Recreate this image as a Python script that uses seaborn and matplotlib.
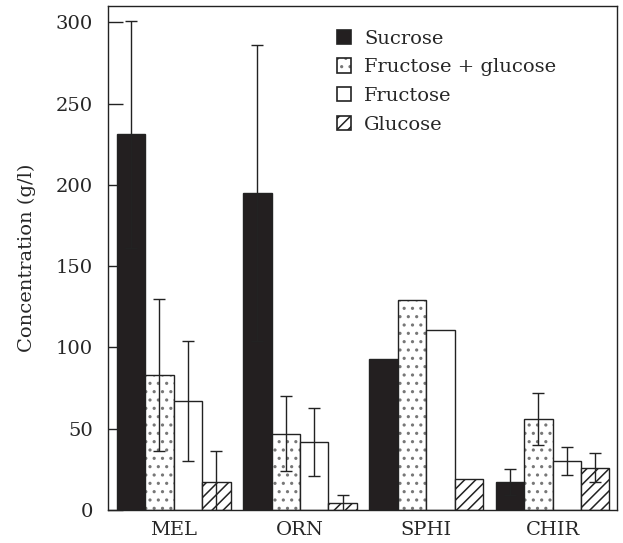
import numpy as np
import pandas as pd
import matplotlib
matplotlib.use("Agg")
import matplotlib.pyplot as plt
import seaborn as sns
from matplotlib.patches import Patch
from matplotlib.colors import to_rgba

sites = ["MEL", "ORN", "SPHI", "CHIR"]
sugars = ["Sucrose", "Fructose + glucose", "Fructose", "Glucose"]
sucrose = [231, 195, 93, 17]
fruc_gluc = [83, 47, 129, 56]
fructose = [67, 42, 111, 30]
glucose = [17, 4.5, 19, 26]
err_sucrose = [70, 91, 0, 8]
err_fruc_gluc = [47, 23, 0, 16]
err_fructose = [37, 21, 0, 8.5]
err_glucose = [19, 5, 0, 9]
yticks = [0, 50, 100, 150, 200, 250, 300]

vals = {"Sucrose": sucrose, "Fructose + glucose": fruc_gluc,
        "Fructose": fructose, "Glucose": glucose}
errs = {"Sucrose": err_sucrose, "Fructose + glucose": err_fruc_gluc,
        "Fructose": err_fructose, "Glucose": err_glucose}

rows = []
for s in sugars:
    for i, site in enumerate(sites):
        rows.append({"site": site, "sugar": s, "value": vals[s][i], "err": errs[s][i]})
df = pd.DataFrame(rows)

sns.set_theme(style="white")
plt.rcParams["font.family"] = ["DejaVu Serif"]
plt.rcParams["hatch.linewidth"] = 1.1

fig = plt.figure(figsize=(6.23, 5.43), dpi=100)
ax = fig.add_axes([108 / 623, 1 - 510 / 543, (617 - 108) / 623, (510 - 6) / 543])
ax.set_axisbelow(True)

edge = "#222222"
facec = {"Sucrose": "#231f20", "Fructose + glucose": "white",
         "Fructose": "white", "Glucose": "white"}
hatches = {"Sucrose": "", "Fructose + glucose": "..", "Fructose": "", "Glucose": "///"}
hcolors = {"Sucrose": edge, "Fructose + glucose": "#777777", "Fructose": edge, "Glucose": edge}


def set_hc(p, c):
    try:
        p.set_hatchcolor(c)
    except AttributeError:
        p._hatch_color = to_rgba(c)


sns.barplot(data=df, x="site", y="value", hue="sugar", order=sites, hue_order=sugars,
            palette=facec, width=0.9, errorbar=None, ax=ax, legend=False,
            edgecolor=edge, linewidth=1.0, saturation=1)

for cont, s in zip(ax.containers, sugars):
    for bar, i in zip(cont, range(len(sites))):
        bar.set_hatch(hatches[s])
        bar.set_facecolor(facec[s])
        set_hc(bar, hcolors[s])
        e = errs[s][i]
        if e > 0:
            xc = bar.get_x() + bar.get_width() / 2
            ax.errorbar(xc, vals[s][i], yerr=e, fmt="none", ecolor=edge,
                        elinewidth=1.0, capsize=4.5, capthick=1.0, zorder=5)

ax.set_ylim(0, 310)
ax.set_xlim(-0.52, 3.51)
ax.set_yticks(yticks)
ax.set_yticklabels([str(t) for t in yticks], fontsize=14)
ax.tick_params(axis="y", direction="in", length=11, width=1, color=edge, left=True, pad=11)
ax.tick_params(axis="x", length=0, labelsize=14, pad=8)
ax.set_xlabel("")
ax.set_ylabel("Concentration (g/l)", fontsize=14, labelpad=14)
for sp in ax.spines.values():
    sp.set_color(edge)
    sp.set_linewidth(1.0)

handles = []
for s in sugars:
    p = Patch(facecolor=facec[s], edgecolor=edge, hatch=hatches[s], label=s, linewidth=1.2)
    set_hc(p, hcolors[s])
    handles.append(p)
ax.legend(handles=handles, loc="upper left", bbox_to_anchor=(0.415, 0.988), frameon=False,
          fontsize=14, handlelength=0.75, handleheight=0.75, handletextpad=0.65, labelspacing=0.55)

fig.savefig("out.png", dpi=100)
